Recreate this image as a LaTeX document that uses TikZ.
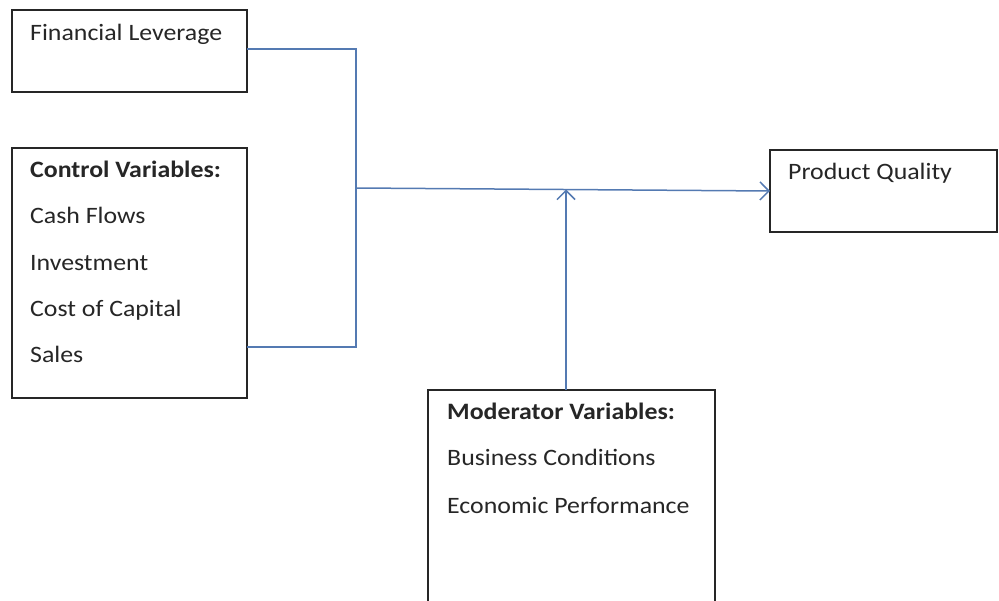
\documentclass[tikz,border=0pt]{standalone}
\usepackage{fontspec}
\setmainfont{Carlito}[FakeStretch=1.1]
\usetikzlibrary{arrows.meta}
\begin{document}
\begin{tikzpicture}[x=1pt,y=-1pt,
  box/.style={draw=black!85, line width=1.3pt, fill=white},
  lbl/.style={anchor=base west, inner sep=0pt, font=\fontsize{23.5}{28}\selectfont, text=black!85},
  conn/.style={color={rgb,255:red,84;green,122;blue,178}, line width=1.5pt},
  tip/.style={-{Straight Barb[length=9pt,width=18pt,line width=1.5pt]}}]
\useasboundingbox (0,0) rectangle (999,601);
\begin{scope}
\clip (0,0) rectangle (999,601);
% boxes
\draw[box] (12,10) rectangle (247,92);
\coordinate (fl) at (247,49);
\draw[box] (12,148) rectangle (247,398);
\coordinate (cv) at (247,347);
\draw[box] (770,150) rectangle (997,232);
\coordinate (pq) at (770,191);
\draw[box] (428,390) rectangle (715,620);
\coordinate (mv) at (566,390);
% texts
\node[lbl] (t1) at (30,41) {Financial Leverage};
\node[lbl] (t2) at (30,178) {\bfseries Control Variables:};
\node[lbl] (t3) at (30,224) {Cash Flows};
\node[lbl] (t4) at (30,271) {Investment};
\node[lbl] (t5) at (30,317) {Cost of Capital};
\node[lbl] (t6) at (30,363) {Sales};
\node[lbl] (t7) at (788,180) {Product Quality};
\node[lbl] (t8) at (447,420) {\bfseries Moderator Variables:};
\node[lbl] (t9) at (447,466) {Business Conditions};
\node[lbl] (t10) at (447,513) {Economic Performance};
% connectors
\coordinate (j) at (356,188);
\draw[conn] (fl) -- (356,49) -- (356,347) -- (cv);
\draw[conn,tip] (j) -- (pq);
\draw[conn,tip] (mv) -- (566,189.5);
\end{scope}
\end{tikzpicture}
\end{document}
